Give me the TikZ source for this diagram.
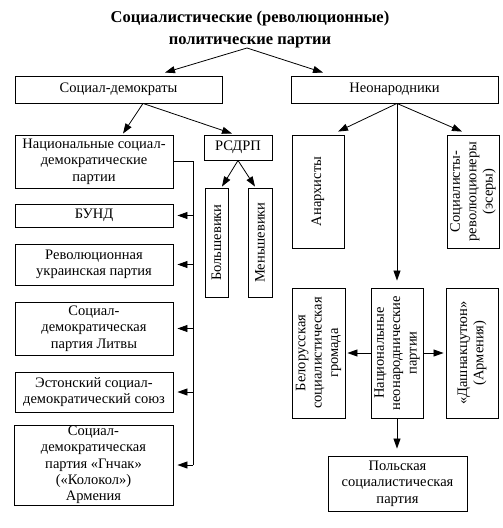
\documentclass[tikz,border=0pt]{standalone}
\usepackage{fontspec}
\setmainfont{Liberation Serif}
\usetikzlibrary{arrows.meta,calc}
\begin{document}
\begin{tikzpicture}[x=1pt,y=-1pt,
  box/.style={draw,line width=0.9pt,inner sep=0.5pt,align=center,font=\fontsize{14.5}{16.3}\selectfont},
  vbox/.style={box,rotate=90},
  arr/.style={line width=0.8pt,-{Triangle[length=10pt,width=7pt]}},
  ln/.style={line width=0.8pt}]
\useasboundingbox (0,0) rectangle (503,528);
\node[align=center,font=\fontsize{16.5}{22}\selectfont\bfseries] (title) at (250,30)
  {Социалистические (революционные)\\политические партии};
\coordinate (tb) at (247,48);
\node[box,minimum width=207,minimum height=27] (sd) at (118.5,89.5) {Социал-демократы};
\node[box,minimum width=207,minimum height=27] (neo) at (394.5,89.5) {Неонародники};
\draw[arr] (tb) -- ($(sd.north)+(46.5,-3)$);
\draw[arr] (tb) -- ($(neo.north)+(-71.5,-3)$);
% left
\node[box,minimum width=158,minimum height=53] (nsd) at (94,161.5) {Национальные социал-\\демократические\\партии};
\node[box,minimum width=68,minimum height=25] (rsdrp) at (238,147.5) {РСДРП};
\node[vbox,minimum width=109,minimum height=23] (bol) at (216.5,242.5) {Большевики};
\node[vbox,minimum width=109,minimum height=24] (men) at (260,242.5) {Меньшевики};
\coordinate (sdb) at ($(sd.south)+(24.5,0)$);
\draw[arr] (sdb) -- ($(nsd.north)+(29,-1)$);
\draw[arr] (sdb) -- ($(rsdrp.north)+(-6,-1)$);
\draw[arr] (rsdrp.south) -- ($(bol.east)+(5.5,-1)$);
\draw[arr] (rsdrp.south) -- ($(men.east)+(-5,-1)$);
\node[box,minimum width=158,minimum height=23] (bund) at (94,215.5) {БУНД};
\node[box,minimum width=158,minimum height=41] (ukr) at (94,264.5) {Революционная\\украинская партия};
\node[box,minimum width=158,minimum height=53] (lit) at (94,328.5) {Социал-\\демократическая\\партия Литвы};
\node[box,minimum width=158,minimum height=40] (est) at (94,392) {Эстонский социал-\\демократический союз};
\node[box,minimum width=159,minimum height=80] (gn) at (93.5,465) {Социал-\\демократическая\\партия «Гнчак»\\(«Колокол»)\\Армения};
\coordinate (bt) at (193,161.5);
\draw[ln] (nsd.east) -- (bt) -- (bt |- gn.east);
\foreach \n in {bund,ukr,lit,est,gn}
  \draw[arr] (bt |- \n.east) -- ($(\n.east)+(4,0)$);
% right
\node[vbox,minimum width=113,minimum height=52] (an) at (318,191.5) {Анархисты};
\node[vbox,minimum width=113,minimum height=52] (sr) at (473,191.5) {Социалисты-\\революционеры\\(эсеры)};
\node[vbox,minimum width=130,minimum height=52] (nnp) at (397,353) {Национальные\\неонароднические\\партии};
\node[vbox,minimum width=130,minimum height=53] (bel) at (318.5,353) {Белорусская\\социалистическая\\громада};
\node[vbox,minimum width=130,minimum height=52] (dash) at (472,353) {«Дашнакцутюн»\\(Армения)};
\node[box,minimum width=139,minimum height=55] (pol) at (397.5,483.5) {Польская\\социалистическая\\партия};
\coordinate (nb) at ($(neo.south)+(2.5,0)$);
\draw[arr] (nb) -- ($(an.east)+(20,-3)$);
\draw[arr] (nb) -- ($(sr.east)+(-11,-3)$);
\draw[arr] (nb) -- ($(nnp.east)+(0,-7)$);
\draw[arr] (nnp.north) -- ($(bel.south)+(2,0)$);
\draw[arr] (nnp.south) -- ($(dash.north)+(-2,0)$);
\draw[arr] (nnp.west) -- ($(pol.north)+(-0.5,-7)$);
\end{tikzpicture}
\end{document}
